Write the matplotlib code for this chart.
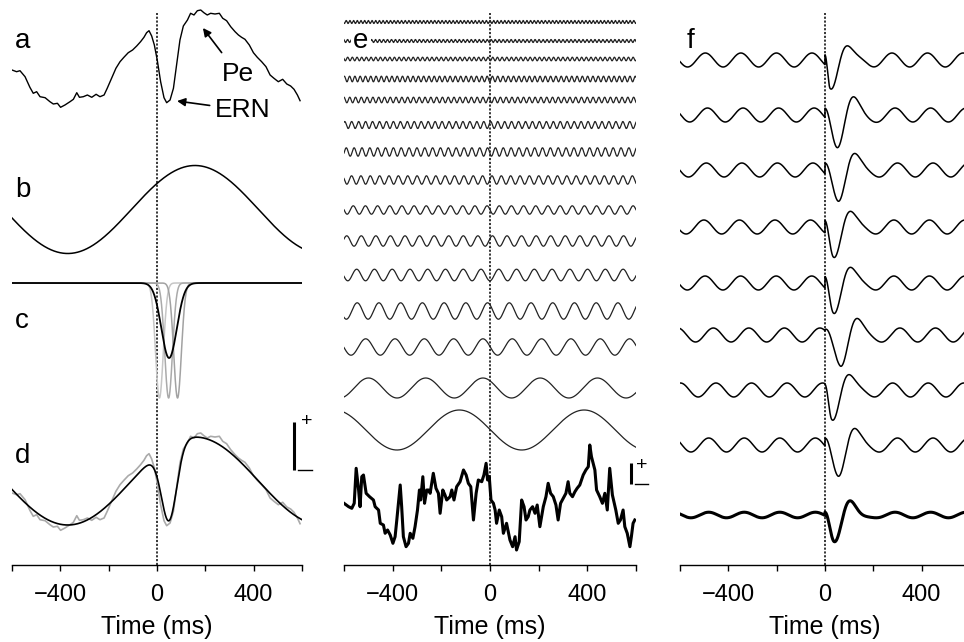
import numpy as np
import matplotlib.pyplot as plt

plt.rcParams['font.family'] = ['Liberation Sans', 'DejaVu Sans']

t = np.linspace(-600, 600, 4801)  # ms

# a / d: response-locked average (ms, µV)
erp_t = [-600, -581, -567, -546, -526, -512, -498, -484, -463, -443, -429, -412, -399, -381,
         -360, -346, -332, -321, -305, -288, -270, -252, -236, -219, -206, -188, -170, -153,
         -137, -119, -101, -84, -68, -54, -43, -33, -22, -11, 1, 15, 29, 40, 54, 68, 81, 95,
         109, 126, 139, 153, 167, 181, 194, 208, 222, 240, 258, 272, 288, 305, 323, 337, 350,
         364, 382, 399, 415, 433, 451, 468, 484, 502, 520, 537, 553, 567, 581, 592]
erp_v = [-1.0, -1.17, -1.07, -1.67, -2.73, -3.33, -3.17, -3.67, -3.77, -4.17, -4.4, -4.33,
         -4.73, -4.5, -4.17, -3.93, -3.27, -3.73, -3.67, -3.5, -3.73, -3.43, -3.67, -3.5, -2.83,
         -1.83, -0.83, -0.17, 0.27, 0.73, 1.0, 1.4, 1.83, 2.27, 2.73, 2.93, 2.4, 1.5, 0.0, -2.17,
         -3.77, -4.27, -4.0, -2.83, -0.5, 2.0, 3.4, 4.0, 4.67, 4.5, 4.93, 5.0, 4.73, 4.5, 4.67,
         4.6, 4.67, 4.17, 3.93, 3.33, 2.83, 2.5, 2.27, 2.07, 1.5, 0.73, 0.27, -0.17, -0.67, -1.5,
         -1.83, -2.17, -1.93, -2.4, -2.6, -2.93, -3.5, -4.07]

# b: slow drift
drift_freq = 0.95   # Hz
drift_peak = 157    # ms
drift_amp = 4.4     # µV

# c: single-trial ERN latencies and their average
ern_lat = [10, 48, 85]
ern_sd = 16
ern_depth = 11.5
ern_colors = ['#c6c6c6', '#aaaaaa', '#a2a2a2']
ern_avg_lat = 50
ern_avg_sd = 32
ern_avg_depth = 7.5

# e: oscillatory components (top to bottom) and the raw trial
osc_freq = [66, 61, 52, 46, 42, 35, 31, 26, 20, 16.7, 13.7, 11.2, 8.3, 4.25, 1.95]
osc_amp = [0.15, 0.15, 0.18, 0.28, 0.28, 0.35, 0.42, 0.42, 0.42, 0.52, 0.58, 0.82, 0.82, 1.0, 2.0]
osc_peak = [0, 5, -8, 10, -5, 3, -10, 8, -12, 10, 36, -10, -29, -29, -126]

raw_t = [-600, -581, -568, -558, -550, -540, -534, -527, -520, -509, -495, -479, -472, -458,
         -451, -438, -431, -421, -410, -399, -390, -383, -369, -363, -356, -345, -335, -328,
         -317, -308, -298, -290, -285, -276, -269, -260, -253, -246, -233, -222, -212, -205,
         -194, -185, -178, -164, -157, -148, -137, -123, -109, -98, -89, -79, -68, -57, -48,
         -34, -25, -16, -10, -3, 4, 14, 21, 27, 38, 48, 55, 68, 82, 93, 103, 109, 120, 130, 140,
         148, 157, 164, 175, 185, 194, 205, 219, 230, 239, 249, 260, 271, 280, 290, 301, 312,
         321, 328, 339, 349, 358, 369, 383, 394, 404, 410, 417, 431, 438, 451, 462, 472, 482,
         492, 503, 517, 527, 536, 547, 554, 564, 575, 581, 588, 595]
raw_v = [0.17, -0.17, -0.33, 0.17, 3.67, 1.5, -0.17, 2.83, 3.0, 1.17, 0.83, 0.5, -0.17, -0.5,
         -1.83, -2.0, -2.83, -2.5, -3.0, -3.83, -3.17, -1.5, 2.0, -0.17, -3.17, -4.17, -3.83,
         -2.83, -3.33, -2.17, -0.5, 1.5, 0.5, 2.83, 0.17, 1.5, 1.5, 1.17, 3.17, 1.67, 1.17,
         -0.83, 1.5, 1.0, 0.5, 0.83, 1.5, 0.5, 1.83, 2.33, 3.5, 3.0, 2.17, 1.83, -1.5, 1.17, 2.5,
         2.33, 3.0, 4.17, 2.5, 2.83, 0.5, 0.17, -0.5, -1.83, -0.5, -1.17, -2.83, -1.83, -3.5,
         -4.17, -3.17, -4.5, -3.67, 0.5, -0.17, -1.5, -1.17, -0.5, -0.17, -0.83, 0.0, -2.17,
         -0.17, 0.83, 2.17, 1.17, 0.83, 0.0, -1.5, 0.17, 0.67, 1.17, 2.33, 1.17, 0.83, 1.33,
         1.67, 2.0, 3.0, 3.5, 3.83, 6.0, 4.83, 3.5, 1.5, 0.83, 0.17, 1.17, -0.5, 3.67, 1.0,
         -0.5, -1.83, -1.5, -0.5, -2.17, -2.83, -4.17, -3.17, -1.83, -1.5]

# f: single trials with phase-reset theta, and the across-trial average
theta_freq = 6.8          # Hz
trial_amp = 0.7           # µV
trial_pre_peak = [-54, -45, -50, -60, -55, -21, -10, -40]     # ms
trial_post_peak = [277, 290, 300, 285, 285, 310, 280, 300]    # ms
trial_trough = [21, 48, 52, 34, 34, 62, 28, 52]               # ms
trial_erp = 2.8
avg_amp = 0.28
avg_pre_peak = -40
avg_post_peak = 290
avg_trough = 38
avg_erp = 2.6
erp_sd = 62
erp_freq = 7.1


def cosine(freq, peak, amp):
    return amp * np.cos(2 * np.pi * freq * (t - peak) / 1000)


def gauss(lat, sd, depth):
    return -depth * np.exp(-(t - lat) ** 2 / (2 * sd ** 2))


def reset_trace(amp, pre_peak, post_peak, trough, depth):
    pre = cosine(theta_freq, pre_peak, amp)
    post = cosine(theta_freq, post_peak, amp)
    # steep onset from the response up to the first trough, then a damped cycle
    rise = -depth * np.sin(np.pi / 2 * np.clip(t, 0, None) / trough) ** 2
    tail = -depth * np.exp(-(t - trough) ** 2 / (2 * erp_sd ** 2)) \
        * np.cos(2 * np.pi * erp_freq * (t - trough) / 1000)
    post = post + np.where(t < trough, rise, tail)
    return np.where(t < 0, pre, post)


fig = plt.figure(figsize=(9.64, 6.42), dpi=100)
W, H = 964.0, 642.0
AX_H = 565.0  # axis line position from the top, px


def column(x0, x1):
    ax = fig.add_axes([x0 / W, 1 - AX_H / H, (x1 - x0) / W, AX_H / H])
    ax.set_xlim(-600, 600)
    ax.set_ylim(-AX_H / 10, 0)   # 1 µV per 10 px
    for s in ['left', 'right', 'top']:
        ax.spines[s].set_visible(False)
    ax.spines['bottom'].set_linewidth(1.0)
    ax.set_yticks([])
    ax.set_xticks(range(-600, 601, 200))
    ax.set_xticklabels(['', '\u2212400', '', '0', '', '400', ''], fontsize=17)
    ax.tick_params(axis='x', direction='out', length=4, width=1.0, pad=10)
    ax.set_xlabel('Time (ms)', fontsize=18, labelpad=6)
    ax.plot([0, 0], [-AX_H / 10, -1.3], color='k', lw=1.1, ls=(0, (1.4, 1.1)), zorder=1)
    return ax


def letter(ax, x, y, s):
    return ax.text(x, y, s, fontsize=20, ha='left', va='baseline')


# left column: a-d
ax1 = column(12, 302)
ax1.plot(erp_t, np.array(erp_v) - 6.0, color='k', lw=1.0)
letter(ax1, -588, -4.8, 'a')
ax1.annotate('Pe', xy=(190, -2.8), xytext=(335, -7.4), fontsize=19, ha='center', va='center',
             arrowprops=dict(arrowstyle='-|>', color='k', lw=1.2, mutation_scale=12,
                             shrinkA=6, shrinkB=0))
ax1.annotate('ERN', xy=(83, -10.1), xytext=(356, -11.0), fontsize=19, ha='center', va='center',
             arrowprops=dict(arrowstyle='-|>', color='k', lw=1.2, mutation_scale=12,
                             shrinkA=2, shrinkB=0))

drift = cosine(drift_freq, drift_peak, drift_amp)
ax1.plot(t, drift - 20.95, color='k', lw=1.1)
letter(ax1, -588, -19.7, 'b')

for lat, col in zip(ern_lat, ern_colors):
    ax1.plot(t, gauss(lat, ern_sd, ern_depth) - 28.3, color=col, lw=1.1)
ern_avg = gauss(ern_avg_lat, ern_avg_sd, ern_avg_depth)
ax1.plot(t, ern_avg - 28.3, color='k', lw=1.3)
letter(ax1, -588, -32.8, 'c')

ax1.plot(erp_t, np.array(erp_v) - 48.3, color='#aaaaaa', lw=1.2)
ax1.plot(t, drift + ern_avg - 48.1, color='k', lw=1.2)
letter(ax1, -588, -46.3, 'd')
ax1.plot([565, 565], [-42.2, -47.0], color='k', lw=2.2, solid_capstyle='butt', clip_on=False)
ax1.plot([585, 640], [-47.0, -47.0], color='k', lw=1.0, clip_on=False)
ax1.text(620, -42.2, '+', fontsize=14, ha='center', va='center', clip_on=False)

# middle column: e
ax2 = column(344, 636)
e_base = [22, 41, 59, 79, 100, 125, 152, 180, 210, 241, 275, 311, 347, 388, 430]
for f, a, p, b in zip(osc_freq, osc_amp, osc_peak, e_base):
    ax2.plot(t, cosine(f, p, a) - b / 10, color='#222222', lw=0.9)
ax2.plot(raw_t, np.array(raw_v) - 50.5, color='k', lw=2.2)
ax2.text(-530, -4.8, 'e', fontsize=20, ha='center', va='baseline',
         bbox=dict(facecolor='white', edgecolor='none', pad=1.5))
ax2.plot([580, 580], [-46.3, -48.4], color='k', lw=2.2, solid_capstyle='butt', clip_on=False)
ax2.plot([595, 650], [-48.4, -48.4], color='k', lw=1.0, clip_on=False)
ax2.text(625, -46.6, '+', fontsize=14, ha='center', va='center', clip_on=False)

# right column: f
ax3 = column(680, 970)
f_base = [60, 115, 170, 227, 283, 335, 390, 445]
for i, b in enumerate(f_base):
    tr = reset_trace(trial_amp, trial_pre_peak[i], trial_post_peak[i], trial_trough[i], trial_erp)
    ax3.plot(t, tr - b / 10, color='k', lw=1.1)
avg = reset_trace(avg_amp, avg_pre_peak, avg_post_peak, avg_trough, avg_erp)
ax3.plot(t, avg - 51.5, color='k', lw=2.2)
letter(ax3, -571, -4.8, 'f')

fig.savefig('out.png', dpi=100)
